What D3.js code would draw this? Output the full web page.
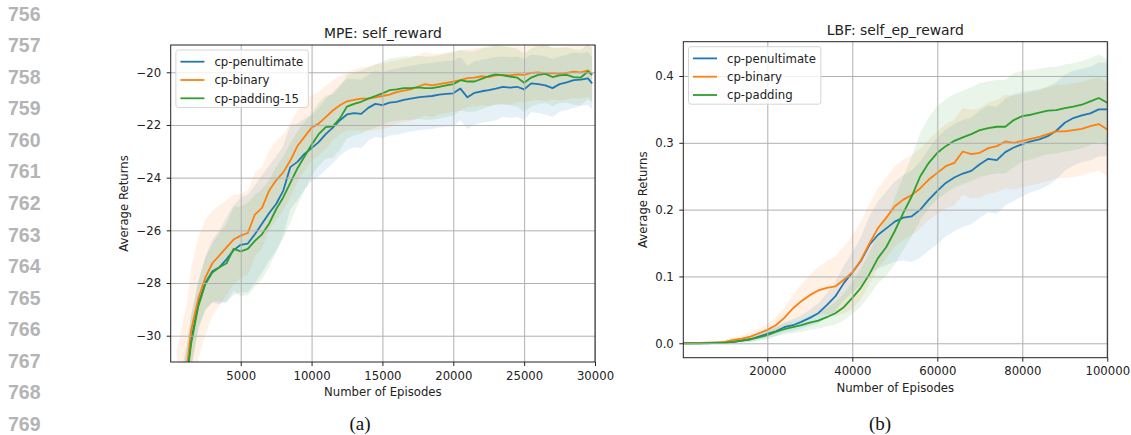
<!DOCTYPE html>
<html>
<head>
<meta charset="utf-8">
<script src="https://cdn.jsdelivr.net/npm/d3@7"></script>
<style>
  body { margin: 0; background: #fff; }
  svg { display: block; }
  text { font-family: "DejaVu Sans", sans-serif; fill: #222; }
</style>
</head>
<body>
<svg id="fig" width="1131" height="435"></svg>
<script>
// ---- data ----
const lineNumbers = [756, 757, 758, 759, 760, 761, 762, 763, 764, 765, 766, 767, 768, 769];
const seriesNames = ["cp-penultimate", "cp-binary", "cp-padding-15"];
const seriesNamesLbf = ["cp-penultimate", "cp-binary", "cp-padding"];

// (a) MPE: self_reward
const mpeEpisodes = [500, 900, 1200, 1500, 2000, 2500, 3000, 3500, 4000, 4500, 5000, 5500,
  6000, 6500, 7000, 7500, 8000, 8500, 9000, 9500, 10000, 10500,
  11000, 11500, 12000, 12500, 13000, 13500, 14000, 14500, 15000, 15500,
  16000, 16500, 17000, 17500, 18000, 18500, 19000, 19500, 20000, 20500,
  21000, 21500, 22000, 22500, 23000, 23500, 24000, 24500, 25000, 25500,
  26000, 26500, 27000, 27500, 28000, 28500, 29000, 29500, 29800];
const mpePenultimate = [-34, -32.8, -31.5, -30.2, -28.8, -28.0, -27.55, -27.4, -27.1, -26.75, -26.55, -26.5,
  -26.15, -25.75, -25.35, -25.0, -24.5, -23.6, -23.4, -23.1, -22.88, -22.65,
  -22.35, -22.1, -21.82, -21.6, -21.55, -21.58, -21.35, -21.2, -21.25, -21.15,
  -21.12, -21.05, -21.0, -20.95, -20.92, -20.9, -20.85, -20.82, -20.8, -20.62,
  -20.95, -20.78, -20.72, -20.68, -20.62, -20.55, -20.58, -20.55, -20.65, -20.42,
  -20.45, -20.5, -20.6, -20.45, -20.38, -20.3, -20.28, -20.23, -20.42];
const mpeBinary = [-33.5, -32.2, -31.2, -29.8, -28.6, -27.8, -27.25, -26.95, -26.65, -26.35, -26.2, -26.1,
  -25.4, -25.15, -24.5, -24.1, -23.8, -23.35, -22.8, -22.45, -22.1, -21.95,
  -21.7, -21.45, -21.25, -21.1, -21.05, -21.0, -21.0, -20.95, -20.9, -20.85,
  -20.75, -20.7, -20.65, -20.55, -20.45, -20.5, -20.45, -20.4, -20.35, -20.3,
  -20.22, -20.2, -20.15, -20.18, -20.12, -20.1, -20.12, -20.08, -20.1, -20.02,
  -20.0, -20.05, -20.03, -20.06, -20.02, -19.98, -20.0, -19.93, -20.08];
const mpePadding = [-34, -32.9, -31.6, -30.3, -28.9, -28.05, -27.6, -27.4, -27.25, -26.7, -26.8, -26.7,
  -26.4, -26.15, -25.75, -25.2, -24.75, -24.2, -23.65, -23.2, -22.75, -22.35,
  -22.08, -22.05, -21.75, -21.3, -21.2, -21.12, -21.0, -20.9, -20.8, -20.68,
  -20.65, -20.6, -20.6, -20.57, -20.6, -20.6, -20.55, -20.5, -20.45, -20.3,
  -20.35, -20.35, -20.25, -20.15, -20.08, -20.12, -20.16, -20.2, -20.4, -20.2,
  -20.1, -20.06, -20.18, -20.12, -20.1, -20.18, -20.2, -19.97, -20.1];
const mpePenultimateStd = [2.0, 1.6, 1.2, 1.0, 0.9, 1.0, 1.2, 1.4, 1.6, 1.7, 1.8, 1.85,
  1.85, 1.85, 1.8, 1.8, 1.7, 1.6, 1.45, 1.35, 1.25, 1.3,
  1.35, 1.35, 1.35, 1.35, 1.3, 1.3, 1.25, 1.25, 1.25, 1.25,
  1.25, 1.25, 1.25, 1.25, 1.25, 1.25, 1.25, 1.25, 1.25, 1.2,
  1.2, 1.2, 1.2, 1.2, 1.2, 1.15, 1.15, 1.15, 1.15, 1.1,
  1.1, 1.1, 1.1, 1.05, 1.05, 1.05, 1.0, 1.0, 1.0];
const mpeBinaryStd = [3.0, 2.7, 2.4, 2.4, 2.3, 2.2, 2.0, 1.9, 1.8, 1.7, 1.6, 1.6,
  1.6, 1.55, 1.5, 1.5, 1.45, 1.4, 1.35, 1.3, 1.25, 1.2,
  1.2, 1.15, 1.1, 1.1, 1.15, 1.2, 1.2, 1.25, 1.25, 1.25,
  1.2, 1.2, 1.2, 1.2, 1.2, 1.2, 1.15, 1.15, 1.15, 1.15,
  1.1, 1.1, 1.1, 1.1, 1.1, 1.1, 1.1, 1.05, 1.05, 1.05,
  1.05, 1.05, 1.0, 1.0, 1.0, 1.0, 1.0, 1.0, 1.0];
const mpePaddingStd = [2.0, 1.6, 1.2, 1.0, 0.9, 1.0, 1.1, 1.3, 1.5, 1.6, 1.7, 1.75,
  1.75, 1.7, 1.65, 1.6, 1.55, 1.5, 1.4, 1.3, 1.2, 1.2,
  1.2, 1.2, 1.2, 1.2, 1.2, 1.2, 1.2, 1.2, 1.2, 1.2,
  1.2, 1.2, 1.2, 1.2, 1.2, 1.2, 1.2, 1.2, 1.2, 1.15,
  1.15, 1.15, 1.15, 1.15, 1.15, 1.1, 1.1, 1.1, 1.1, 1.1,
  1.1, 1.1, 1.1, 1.05, 1.05, 1.05, 1.05, 1.05, 1.05];
const mpeXTicks = [5000, 10000, 15000, 20000, 25000, 30000];
const mpeYTicks = [-30, -28, -26, -24, -22, -20];

// (b) LBF: self_ep_reward
const lbfEpisodes = [200, 2000, 4000, 6000, 8000, 10000, 12000, 14000, 16000, 18000,
  20000, 22000, 24000, 26000, 28000, 30000, 32000, 34000, 36000, 38000,
  40000, 42000, 44000, 46000, 48000, 50000, 52000, 54000, 56000, 58000,
  60000, 62000, 64000, 66000, 68000, 70000, 72000, 74000, 76000, 78000,
  80000, 82000, 84000, 86000, 88000, 90000, 92000, 94000, 96000, 98000, 100000];
const lbfPenultimate = [0, 0, 0, 0, 0.0005, 0.001, 0.002, 0.004, 0.006, 0.01,
  0.014, 0.018, 0.024, 0.027, 0.032, 0.038, 0.045, 0.057, 0.07, 0.09,
  0.106, 0.123, 0.147, 0.162, 0.172, 0.182, 0.188, 0.19, 0.2, 0.215,
  0.228, 0.24, 0.248, 0.254, 0.258, 0.268, 0.276, 0.274, 0.286, 0.293,
  0.298, 0.302, 0.305, 0.31, 0.318, 0.33, 0.337, 0.341, 0.344, 0.35, 0.35];
const lbfBinary = [0, 0, 0.0005, 0.001, 0.001, 0.002, 0.005, 0.007, 0.01, 0.015,
  0.02, 0.027, 0.038, 0.052, 0.063, 0.072, 0.079, 0.083, 0.085, 0.095,
  0.106, 0.124, 0.149, 0.172, 0.188, 0.205, 0.215, 0.222, 0.232, 0.245,
  0.255, 0.265, 0.27, 0.287, 0.283, 0.285, 0.292, 0.295, 0.302, 0.3,
  0.303, 0.306, 0.309, 0.313, 0.317, 0.317, 0.319, 0.321, 0.325, 0.328, 0.32];
const lbfPadding = [0, 0, 0, 0.0005, 0.001, 0.001, 0.002, 0.004, 0.006, 0.009,
  0.012, 0.017, 0.021, 0.024, 0.027, 0.031, 0.034, 0.039, 0.045, 0.054,
  0.068, 0.083, 0.103, 0.127, 0.144, 0.168, 0.195, 0.22, 0.25, 0.27,
  0.285, 0.295, 0.303, 0.308, 0.313, 0.319, 0.322, 0.324, 0.324, 0.334,
  0.34, 0.342, 0.345, 0.348, 0.349, 0.352, 0.354, 0.357, 0.362, 0.367, 0.36];
const lbfPenultimateStd = [0, 0, 0, 0, 0.001, 0.001, 0.002, 0.003, 0.004, 0.005,
  0.006, 0.007, 0.008, 0.009, 0.01, 0.012, 0.015, 0.018, 0.022, 0.026,
  0.03, 0.036, 0.043, 0.05, 0.055, 0.06, 0.064, 0.068, 0.072, 0.076,
  0.08, 0.08, 0.08, 0.08, 0.08, 0.08, 0.08, 0.08, 0.08, 0.08,
  0.078, 0.076, 0.075, 0.074, 0.073, 0.072, 0.071, 0.07, 0.07, 0.07, 0.07];
const lbfBinaryStd = [0, 0, 0.001, 0.001, 0.002, 0.003, 0.004, 0.005, 0.006, 0.007,
  0.009, 0.012, 0.016, 0.02, 0.025, 0.03, 0.035, 0.04, 0.045, 0.05,
  0.055, 0.058, 0.06, 0.06, 0.06, 0.06, 0.06, 0.06, 0.06, 0.06,
  0.062, 0.063, 0.064, 0.065, 0.066, 0.067, 0.068, 0.069, 0.07, 0.07,
  0.07, 0.07, 0.07, 0.07, 0.07, 0.07, 0.07, 0.07, 0.07, 0.07, 0.07];
const lbfPaddingStd = [0, 0, 0, 0, 0.001, 0.001, 0.002, 0.003, 0.004, 0.005,
  0.006, 0.007, 0.008, 0.009, 0.01, 0.011, 0.012, 0.014, 0.017, 0.02,
  0.024, 0.028, 0.032, 0.037, 0.043, 0.05, 0.055, 0.06, 0.065, 0.068,
  0.07, 0.07, 0.07, 0.07, 0.07, 0.07, 0.07, 0.07, 0.07, 0.07,
  0.068, 0.067, 0.066, 0.065, 0.065, 0.065, 0.065, 0.065, 0.065, 0.065, 0.065];
const lbfXTicks = [20000, 40000, 60000, 80000, 100000];
const lbfYTicks = [0.0, 0.1, 0.2, 0.3, 0.4];

// ---- drawing ----
const fig = d3.select("#fig");
const colors = ["#1f77b4", "#ff7f0e", "#2ca02c"];
const fontSize = 11.7;

// line numbers down the left margin
fig.append("g").selectAll("text")
  .data(lineNumbers)
  .join("text")
  .attr("x", 8)
  .attr("y", (d, i) => 20.7 + i * 31.55)
  .style("font-family", "'Liberation Sans', Arial, sans-serif")
  .style("font-weight", "bold")
  .style("font-size", "19.5px")
  .style("fill", "#b4b4b4")
  .text(d => d);

function drawPanel(p) {
  const g = fig.append("g");
  const x = d3.scaleLinear().domain(p.xDomain).range([p.left, p.right]);
  const y = d3.scaleLinear().domain(p.yDomain).range([p.bottom, p.top]);
  const w = p.right - p.left, h = p.bottom - p.top;

  const clipId = "clip-" + p.id;
  fig.append("clipPath").attr("id", clipId)
    .append("rect").attr("x", p.left).attr("y", p.top).attr("width", w).attr("height", h);

  const plot = g.append("g").attr("clip-path", `url(#${clipId})`);

  // shaded std bands
  p.series.forEach((s, i) => {
    const pts = p.episodes.map((e, k) => [e, s.values[k], s.std[k]]);
    plot.append("path")
      .datum(pts)
      .attr("d", d3.area()
        .x(d => x(d[0]))
        .y0(d => y(d[1] - d[2]))
        .y1(d => y(d[1] + d[2])))
      .attr("fill", colors[i])
      .attr("fill-opacity", 0.11);
  });

  // grid
  const gx = g.append("g").attr("transform", `translate(0,${p.bottom})`)
    .call(d3.axisBottom(x).tickValues(p.xTicks).tickSize(-h).tickFormat(""));
  const gy = g.append("g").attr("transform", `translate(${p.left},0)`)
    .call(d3.axisLeft(y).tickValues(p.yTicks).tickSize(-w).tickFormat(""));
  [gx, gy].forEach(a => {
    a.select(".domain").remove();
    a.selectAll("line").attr("stroke", "#b0b0b0").attr("stroke-width", 1);
  });

  // mean curves
  p.series.forEach((s, i) => {
    const pts = p.episodes.map((e, k) => [e, s.values[k]]);
    plot.append("path")
      .datum(pts)
      .attr("d", d3.line().x(d => x(d[0])).y(d => y(d[1])))
      .attr("fill", "none")
      .attr("stroke", colors[i])
      .attr("stroke-width", 1.8)
      .attr("stroke-linejoin", "round");
  });

  // axes with tick labels
  const ax = g.append("g").attr("transform", `translate(0,${p.bottom})`)
    .call(d3.axisBottom(x).tickValues(p.xTicks).tickSize(4).tickPadding(5.5)
      .tickSizeOuter(0).tickFormat(d3.format("d")));
  const ay = g.append("g").attr("transform", `translate(${p.left},0)`)
    .call(d3.axisLeft(y).tickValues(p.yTicks).tickSize(4).tickPadding(5.5)
      .tickSizeOuter(0).tickFormat(d3.format(p.yFormat)));
  [ax, ay].forEach(a => {
    a.select(".domain").remove();
    a.selectAll("line").attr("stroke", "#222").attr("stroke-width", 1);
    a.selectAll("text").style("font-size", fontSize + "px").attr("fill", "#222");
  });

  // frame
  g.append("rect")
    .attr("x", p.left).attr("y", p.top).attr("width", w).attr("height", h)
    .attr("fill", "none").attr("stroke", "#222").attr("stroke-width", 1);

  // titles and labels
  g.append("text")
    .attr("x", (p.left + p.right) / 2).attr("y", p.top - 6.7)
    .attr("text-anchor", "middle")
    .style("font-size", "13.9px")
    .text(p.title);
  g.append("text")
    .attr("x", (p.left + p.right) / 2).attr("y", p.bottom + 34)
    .attr("text-anchor", "middle")
    .style("font-size", fontSize + "px")
    .text("Number of Episodes");
  g.append("text")
    .attr("transform", `translate(${p.ylabelX},${(p.top + p.bottom) / 2}) rotate(-90)`)
    .attr("text-anchor", "middle")
    .style("font-size", fontSize + "px")
    .text("Average Returns");

  // legend
  const lg = g.append("g").attr("transform", `translate(${p.left + 5.2},${p.top + 5})`);
  const box = lg.append("rect")
    .attr("rx", 2.5).attr("ry", 2.5)
    .attr("fill", "#fff").attr("fill-opacity", 0.8)
    .attr("stroke", "#d5d5d5").attr("stroke-width", 1);
  let maxW = 0;
  p.series.forEach((s, i) => {
    const cy = 11.7 + i * 18.3;
    lg.append("line")
      .attr("x1", 4.5).attr("x2", 28.5).attr("y1", cy).attr("y2", cy)
      .attr("stroke", colors[i]).attr("stroke-width", 1.8);
    const t = lg.append("text")
      .attr("x", 38.5).attr("y", cy).attr("dy", "0.36em")
      .style("font-size", fontSize + "px")
      .text(s.name);
    maxW = Math.max(maxW, t.node().getComputedTextLength());
  });
  box.attr("width", 38.5 + maxW + 5).attr("height", 57.5);

  // subfigure caption
  fig.append("text")
    .attr("x", p.captionX).attr("y", 430)
    .attr("text-anchor", "middle")
    .style("font-family", "'Liberation Serif', 'Times New Roman', serif")
    .style("font-size", "19px")
    .style("fill", "#111")
    .text(p.caption);
}

drawPanel({
  id: "mpe",
  title: "MPE: self_reward",
  caption: "(a)", captionX: 360,
  left: 170.7, right: 595, top: 45, bottom: 362,
  ylabelX: 127.5,
  xDomain: [60, 30000], yDomain: [-30.998, -18.964],
  xTicks: mpeXTicks, yTicks: mpeYTicks, yFormat: "d",
  episodes: mpeEpisodes,
  series: [
    { name: seriesNames[0], values: mpePenultimate, std: mpePenultimateStd },
    { name: seriesNames[1], values: mpeBinary, std: mpeBinaryStd },
    { name: seriesNames[2], values: mpePadding, std: mpePaddingStd }
  ]
});

drawPanel({
  id: "lbf",
  title: "LBF: self_ep_reward",
  caption: "(b)", captionX: 880,
  left: 683.3, right: 1107.3, top: 41.7, bottom: 357.7,
  ylabelX: 647,
  xDomain: [235, 100000], yDomain: [-0.0216, 0.4513],
  xTicks: lbfXTicks, yTicks: lbfYTicks, yFormat: ".1f",
  episodes: lbfEpisodes,
  series: [
    { name: seriesNamesLbf[0], values: lbfPenultimate, std: lbfPenultimateStd },
    { name: seriesNamesLbf[1], values: lbfBinary, std: lbfBinaryStd },
    { name: seriesNamesLbf[2], values: lbfPadding, std: lbfPaddingStd }
  ]
});
</script>
</body>
</html>
